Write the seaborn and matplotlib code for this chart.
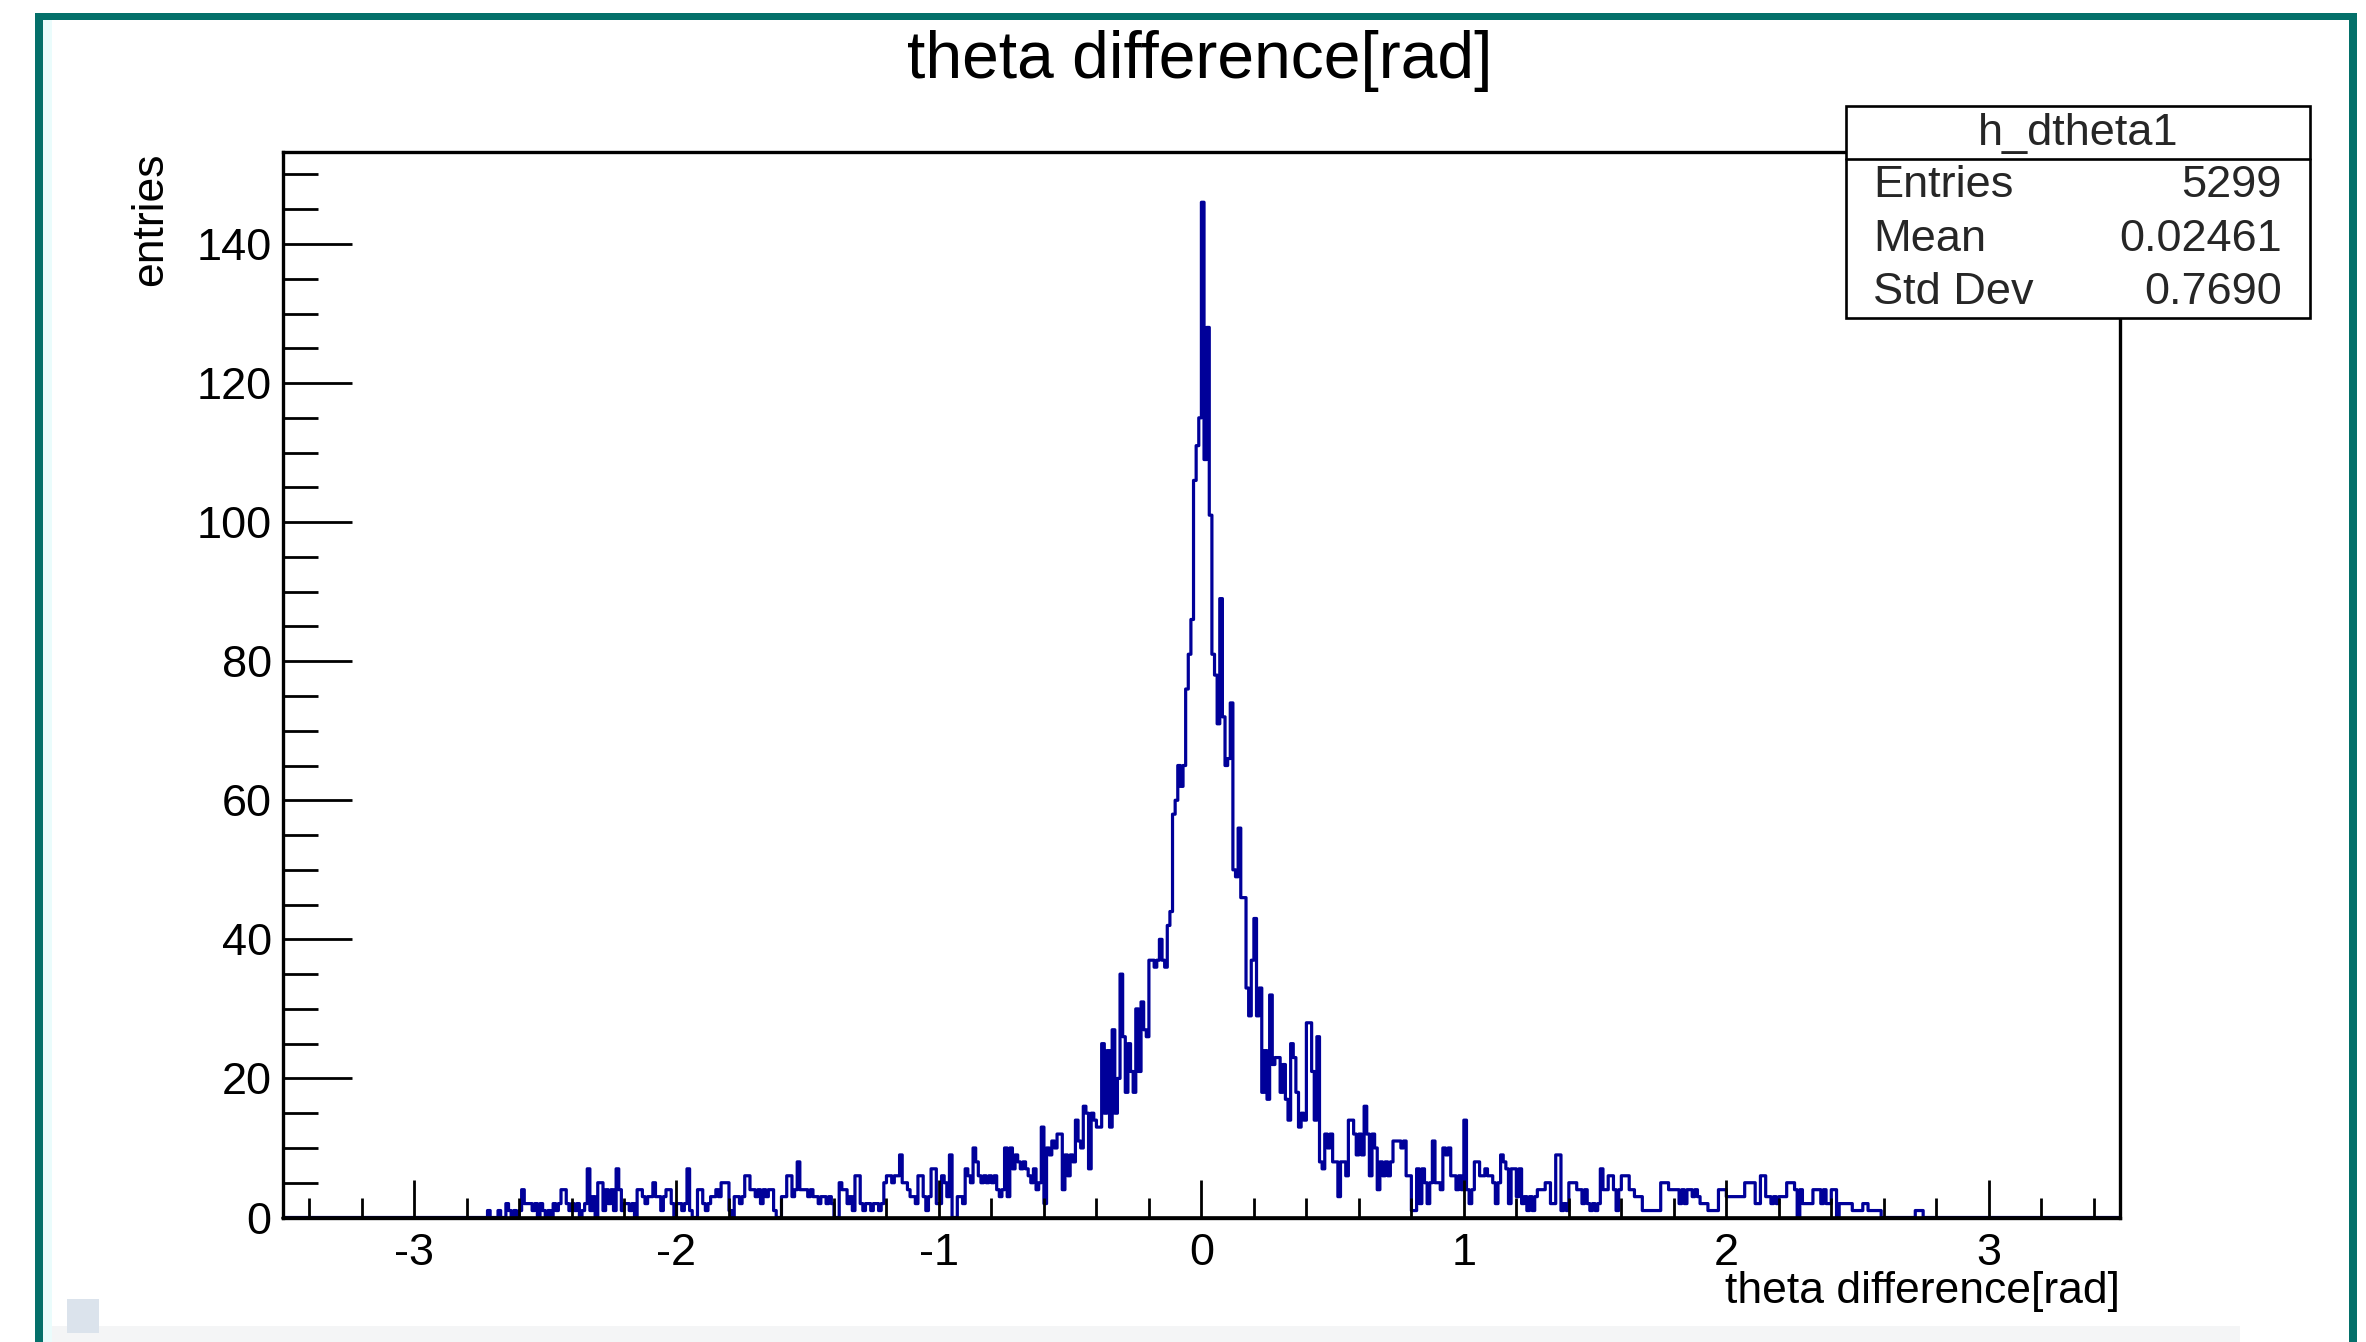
import numpy as np
import pandas as pd
import matplotlib
matplotlib.use("Agg")
import matplotlib.pyplot as plt
import seaborn as sns
from matplotlib.patches import Rectangle
from matplotlib.lines import Line2D
from matplotlib.ticker import MultipleLocator, FuncFormatter

# ---------------- data (700 bins of width 0.01 on [-3.5, 3.5]) ----------------
x_low, x_high, n_bins = -3.5, 3.5, 700
hist_name = "h_dtheta1"
title_text = "theta difference[rad]"
x_title = "theta difference[rad]"
y_title = "entries"
stat_names = ["Entries", "Mean", "Std Dev"]
stat_values = ["5299", "0.02461", "0.7690"]

# bins 75..164
counts_neg_far = [
    0, 0, 0, 1, 0, 0, 0, 1, 0, 0,
    2, 1, 0, 1, 0, 1, 4, 2, 2, 2,
    1, 2, 0, 2, 1, 0, 1, 0, 2, 1,
    2, 4, 4, 2, 1, 2, 1, 2, 0, 1,
    2, 7, 1, 3, 0, 5, 5, 1, 4, 2,
    4, 1, 7, 4, 1, 2, 2, 1, 2, 0,
    4, 4, 3, 2, 3, 3, 5, 3, 3, 1,
    3, 4, 4, 2, 0, 2, 2, 1, 2, 7,
    1, 0, 0, 4, 4, 2, 1, 2, 3, 3,
]
# bins 165..254
counts_neg_mid = [
    4, 3, 5, 5, 5, 1, 0, 3, 3, 2,
    3, 6, 6, 4, 4, 3, 4, 2, 4, 3,
    4, 4, 1, 0, 0, 3, 3, 6, 6, 3,
    4, 8, 4, 4, 4, 3, 4, 3, 3, 2,
    3, 3, 2, 3, 2, 0, 0, 5, 4, 4,
    2, 3, 1, 6, 6, 2, 1, 2, 2, 1,
    2, 2, 1, 2, 5, 6, 6, 5, 6, 6,
    9, 5, 5, 4, 3, 3, 2, 6, 6, 3,
    1, 3, 7, 7, 2, 2, 6, 5, 3, 9,
]
# bins 255..349
counts_neg_near = [
    0, 0, 3, 3, 2, 7, 6, 5, 10, 8,
    6, 5, 6, 5, 6, 5, 6, 4, 3, 4,
    10, 3, 10, 7, 9, 8, 7, 8, 7, 6,
    5, 7, 4, 5, 13, 2, 10, 9, 11, 10,
    12, 12, 4, 9, 6, 9, 8, 14, 11, 10,
    16, 15, 7, 15, 14, 13, 13, 25, 15, 24,
    13, 27, 15, 20, 35, 26, 18, 25, 21, 18,
    30, 21, 31, 27, 26, 37, 37, 36, 37, 40,
    37, 36, 42, 44, 58, 60, 65, 62, 65, 76,
    81, 86, 106, 111, 115,
]
# bins 350..449
counts_pos_core = [
    146, 109, 128, 101, 81, 78, 71, 89, 72, 65,
    66, 74, 50, 49, 56, 46, 46, 33, 29, 37,
    43, 29, 33, 18, 24, 17, 32, 22, 23, 23,
    18, 22, 17, 14, 25, 23, 18, 13, 15, 14,
    28, 28, 21, 14, 26, 8, 7, 12, 10, 12,
    8, 8, 3, 8, 8, 6, 14, 14, 12, 9,
    12, 9, 16, 12, 6, 12, 10, 4, 8, 6,
    8, 6, 8, 11, 11, 11, 10, 11, 6, 6,
    1, 1, 7, 2, 7, 5, 2, 5, 11, 5,
    5, 4, 10, 9, 10, 6, 6, 4, 6, 4,
]
# bins 450..625
counts_pos_tail = [
    14, 4, 2, 4, 8, 8, 6, 6, 7, 6,
    6, 5, 2, 5, 9, 8, 7, 2, 7, 7,
    3, 7, 2, 3, 1, 3, 1, 3, 4, 4,
    4, 5, 5, 2, 2, 9, 9, 1, 2, 1,
    5, 5, 5, 4, 4, 2, 4, 2, 1, 2,
    1, 2, 7, 4, 4, 6, 6, 4, 1, 4,
    6, 6, 6, 4, 4, 3, 3, 3, 1, 1,
    1, 1, 1, 1, 1, 5, 5, 5, 4, 4,
    4, 4, 2, 4, 2, 4, 4, 3, 4, 3,
    2, 2, 2, 1, 1, 1, 1, 4, 4, 4,
    3, 3, 3, 3, 3, 3, 3, 5, 5, 5,
    5, 2, 2, 6, 6, 3, 3, 2, 3, 2,
    3, 3, 3, 5, 5, 5, 4, 0, 4, 2,
    2, 2, 2, 4, 4, 4, 2, 4, 2, 2,
    4, 4, 0, 2, 2, 2, 2, 2, 1, 1,
    1, 1, 2, 2, 1, 1, 1, 1, 1, 0,
    0, 0, 0, 0, 0, 0, 0, 0, 0, 0,
    0, 0, 1, 1, 1, 0,
]
first_filled_bin = 75

# ---------------- build histogram table ----------------
edges = np.linspace(x_low, x_high, n_bins + 1)
centers = 0.5 * (edges[:-1] + edges[1:])
counts = np.zeros(n_bins)
filled = np.concatenate([counts_neg_far, counts_neg_mid, counts_neg_near,
                         counts_pos_core, counts_pos_tail]).astype(float)
counts[first_filled_bin:first_filled_bin + len(filled)] = filled
df = pd.DataFrame({"dtheta": centers, "entries": counts})

# ---------------- style ----------------
sns.set_theme(style="white")
plt.rcParams["font.family"] = ["Liberation Sans", "DejaVu Sans"]
plt.rcParams["axes.unicode_minus"] = False
plt.rcParams["axes.axisbelow"] = False

W, H = 2366, 1342
fig = plt.figure(figsize=(W / 100, H / 100), dpi=100)
fig.patch.set_facecolor("white")

def fx(px):
    return px / W

def fy(py):
    return 1 - py / H

ax_l, ax_r, ax_t, ax_b = 282.8, 2120.0, 151.5, 1217.5
ax = fig.add_axes([fx(ax_l), fy(ax_b), (ax_r - ax_l) / W, (ax_b - ax_t) / H])
ax.set_facecolor("white")

sns.histplot(data=df, x="dtheta", weights="entries", bins=list(edges),
             element="step", fill=False, color="#000099", linewidth=2.3,
             ax=ax, zorder=1.5)

ax.set_xlim(x_low, x_high)
ax.set_ylim(0, 153.3)
ax.set_xlabel("")
ax.set_ylabel("")

# axis line redrawn over the empty bins lying on the baseline (as ROOT does)
ax.axhline(0, color="black", linewidth=2.6, zorder=2.8, clip_on=False)

for s in ax.spines.values():
    s.set_visible(True)
    s.set_color("black")
    s.set_linewidth(2.4)
    s.set_zorder(3)

ax.xaxis.set_major_locator(MultipleLocator(1))
ax.xaxis.set_minor_locator(MultipleLocator(0.2))
ax.yaxis.set_major_locator(MultipleLocator(20))
ax.yaxis.set_minor_locator(MultipleLocator(5))
ax.xaxis.set_major_formatter(FuncFormatter(lambda v, p: f"{v:.0f}"))
ax.yaxis.set_major_formatter(FuncFormatter(lambda v, p: f"{v:.0f}"))

ax.tick_params(axis="both", which="both", direction="in", top=False, right=False,
               bottom=True, left=True, width=2.0, color="black",
               labelcolor="black", labelsize=32.5)
ax.tick_params(axis="x", which="major", length=27.4, pad=11)
ax.tick_params(axis="x", which="minor", length=14.4)
ax.tick_params(axis="y", which="major", length=50, pad=8)
ax.tick_params(axis="y", which="minor", length=25.5)

# ---------------- titles ----------------
fig.text(fx(1200), fy(78.5), title_text, ha="center", va="baseline", fontsize=47.5, color="black")
fig.text(fx(2120), fy(1303), x_title, ha="right", va="baseline", fontsize=32, color="black")
fig.text(fx(151), fy(152), y_title, rotation=90, ha="center", va="top", fontsize=32, color="black")

# ---------------- stats box ----------------
bx0, bx1, by0, by1 = 1846, 2310, 106, 318
fig.add_artist(Rectangle((fx(bx0), fy(by1)), (bx1 - bx0) / W, (by1 - by0) / H,
                         transform=fig.transFigure, facecolor="white", edgecolor="black",
                         linewidth=1.9, zorder=5))
fig.add_artist(Line2D([fx(bx0), fx(bx1)], [fy(158.5), fy(158.5)], transform=fig.transFigure,
                      color="black", linewidth=1.9, zorder=6))
fig.text(fx(2078), fy(145), hist_name, ha="center", va="baseline", fontsize=32.5, zorder=7)
for name, val, yb in zip(stat_names, stat_values, [197, 251, 304]):
    fig.text(fx(1873), fy(yb), name, ha="left", va="baseline", fontsize=32.5, zorder=7)
    fig.text(fx(2282), fy(yb), val, ha="right", va="baseline", fontsize=32.5, zorder=7)

# ---------------- window decoration ----------------
teal = "#04706a"
fig.add_artist(Rectangle((fx(35), fy(20)), (2357 - 35) / W, 7 / H, transform=fig.transFigure,
                         facecolor=teal, edgecolor="none", zorder=8))
fig.add_artist(Rectangle((fx(35), 0), 8 / W, fy(13), transform=fig.transFigure,
                         facecolor=teal, edgecolor="none", zorder=8))
fig.add_artist(Rectangle((fx(2349), 0), 8 / W, fy(13), transform=fig.transFigure,
                         facecolor=teal, edgecolor="none", zorder=8))
fig.add_artist(Rectangle((fx(43), 0), 9 / W, fy(20), transform=fig.transFigure,
                         facecolor="#eafcfc", edgecolor="none", zorder=8))
fig.add_artist(Rectangle((fx(52), 0), (2240 - 52) / W, 16 / H, transform=fig.transFigure,
                         facecolor="#f4f5f6", edgecolor="none", zorder=8))
fig.add_artist(Rectangle((fx(67), fy(1333)), 32 / W, 34 / H, transform=fig.transFigure,
                         facecolor="#dbe3ec", edgecolor="none", zorder=9))

fig.savefig("out.png", dpi=100, facecolor="white")
